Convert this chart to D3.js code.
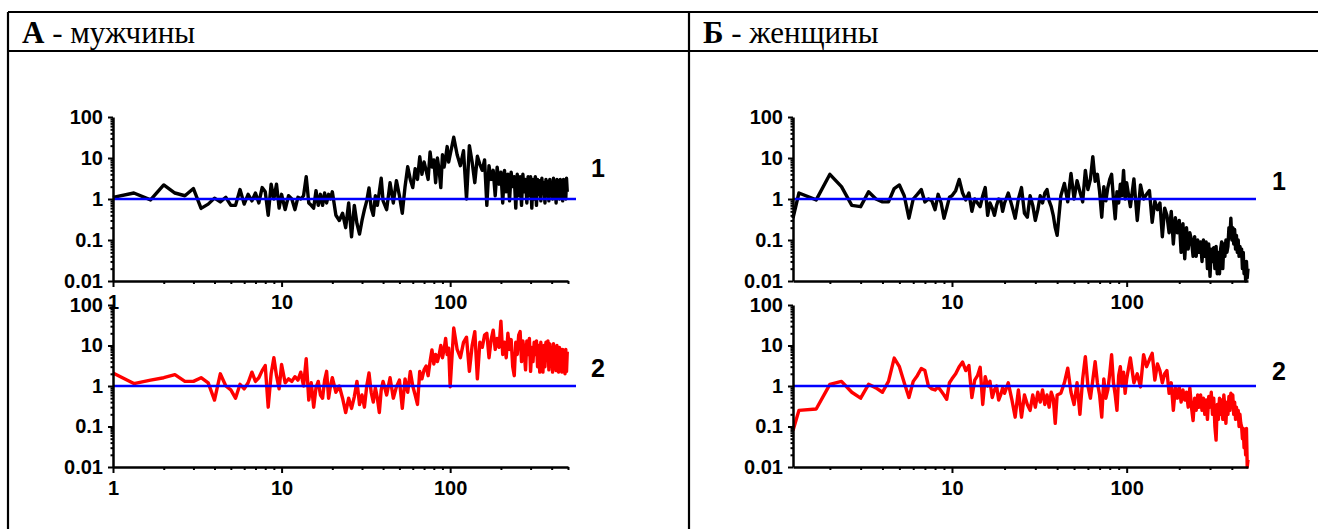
<!DOCTYPE html>
<html>
<head>
<meta charset="utf-8">
<script src="https://cdn.jsdelivr.net/npm/d3@7"></script>
<style>
  body { margin: 0; background: #fff; }
</style>
</head>
<body>
<script>
// Spectra: ratio to reference, log-log, men (A) and women (Б)

const width = 1318;
const height = 529;

// harmonic frequencies (shared grid)
const freqs = [
  1, 1.33, 1.67, 2, 2.33, 2.67, 3, 3.33, 3.67, 4, 4.33, 4.67, 5, 5.33, 5.67, 6, 6.33, 6.67, 7, 7.33, 7.67, 8, 8.33, 8.67, 9, 9.33, 9.67, 10,
  10.5, 11, 11.5, 12, 12.5, 13, 13.5, 14, 14.5, 15, 15.5, 16, 16.5, 17, 17.5, 18, 18.5, 19, 19.5, 20,
  21, 22, 23, 24, 25, 26, 27, 28, 29, 30, 31, 32, 33, 34, 35, 36, 37, 38, 39, 40,
  42, 44, 46, 48, 50, 52, 54, 56, 58, 60, 62, 64, 66, 68, 70, 72, 74, 76, 78, 80, 82, 84, 86, 88, 90, 92, 94, 96, 98, 100,
  105, 110, 115, 120, 125, 130, 135, 140, 145, 150, 155, 160, 165, 170, 175, 180, 185, 190, 195, 200,
  205, 210, 215, 220, 225, 230, 235, 240, 245, 250, 255, 260, 265, 270, 275, 280, 285, 290, 295, 300,
  305, 310, 315, 320, 325, 330, 335, 340, 345, 350, 355, 360, 365, 370, 375, 380, 385, 390, 395, 400,
  405, 410, 415, 420, 425, 430, 435, 440, 445, 450, 455, 460, 465, 470, 475, 480, 485, 490, 495
];
// women's spectra start a little later
const freqsB = [1.23, ...freqs.slice(1)];

// А - мужчины, curve 1
const menSeries1 = [
  1.1, 1.4, 0.95, 2.2, 1.4, 1.2, 1.8, 0.59, 0.75, 1.05, 0.85, 1.1, 0.7, 0.7, 1.7, 0.75, 1.3, 0.9, 1.4, 0.8, 1.9, 1.5, 0.4, 2.3, 1.0, 2.3, 0.6, 1.3,
  0.55, 1.2, 1.0, 0.55, 1.1, 1.0, 1.2, 3.5, 0.8, 0.7, 0.6, 1.6, 0.7, 1.3, 0.7, 1.4, 0.8, 1.3, 1.0, 1.5,
  0.4, 0.3, 0.45, 0.2, 0.8, 0.12, 0.7, 0.25, 0.14, 0.3, 0.55, 0.9, 1.85, 0.6, 0.4, 1.2, 0.7, 1.5, 3.2, 0.9,
  0.55, 2.5, 0.8, 2.8, 1.2, 0.45, 2.0, 6.1, 3.0, 1.9, 5.5, 3.0, 10.7, 4.0, 8, 5, 3.0, 14, 6, 9, 2.5, 10, 5, 1.9, 12, 6, 10, 19, 8, 12,
  32, 12, 6.5, 15, 1.0, 20, 8, 2.5, 11, 7, 5, 9, 0.7, 6.5, 3, 5, 1.2, 6, 2.3, 4.5,
  0.8, 5, 1.5, 4, 0.9, 4.5, 2, 3.5, 0.6, 4, 1.2, 3.5, 0.7, 4, 1.5, 3, 0.8, 3.5, 1.2, 3.5,
  0.6, 3, 1.0, 3.5, 0.7, 3, 1.3, 2.8, 0.9, 3.2, 1.5, 2.5, 0.8, 3, 1.4, 2.6, 0.9, 3, 1.6, 2.5,
  1.0, 3.2, 1.2, 2.5, 0.8, 3, 1.5, 2.6, 1.0, 3, 1.3, 2.4, 0.9, 3, 1.4, 2.5, 1.0, 3.2, 1.5
];

// А - мужчины, curve 2
const menSeries2 = [
  2.1, 1.15, 1.4, 1.6, 1.9, 1.3, 1.3, 1.6, 1.2, 0.45, 2.0, 1.0, 0.8, 0.5, 1.1, 0.85, 1.2, 2.2, 1.3, 1.6, 2.4, 3.2, 0.3, 2.0, 5.0, 1.8, 0.85, 3.4,
  1.2, 1.5, 1.3, 1.7, 1.4, 2.2, 1.0, 4.7, 0.45, 1.2, 0.3, 0.9, 1.3, 0.6, 0.5, 1.4, 2.3, 0.5, 1.0, 1.6,
  0.7, 1.0, 0.5, 0.22, 0.5, 0.28, 0.54, 1.3, 0.35, 0.6, 0.3, 1.0, 2.1, 0.7, 0.4, 0.9, 0.5, 0.22, 0.8, 1.3,
  0.6, 1.6, 0.5, 0.95, 1.4, 0.28, 1.5, 0.7, 2.3, 1.0, 0.6, 0.35, 2.3, 1.5, 2.5, 3.1, 1.8, 4.0, 7.8, 3.5, 6, 4, 5.9, 10, 5, 8, 15, 6, 8.6, 0.96,
  27, 8, 5.0, 12, 16, 2.3, 10, 22, 1.5, 12, 9, 18, 20, 5, 14, 24, 8, 15, 9, 40,
  6, 12, 5, 20, 8, 14, 3, 1.8, 12, 6, 18, 22, 4, 13, 7, 2.5, 13, 6, 15, 2.3,
  9, 4, 12, 6, 13, 3, 10, 2.2, 12, 4, 2.2, 10, 3, 12, 6, 13, 2.5, 11, 5, 8,
  2.2, 11, 4, 9, 2.4, 10, 3, 2.2, 9, 4, 8, 2.2, 8, 3, 7, 2.0, 8, 2.3, 7
];

// Б - женщины, curve 1
const womenSeries1 = [
  0.34, 1.4, 0.95, 4.0, 2.0, 0.7, 0.65, 1.5, 1.0, 0.85, 0.85, 1.8, 2.2, 1.2, 0.34, 1.0, 1.3, 1.7, 0.85, 1.0, 0.9, 0.55, 1.3, 0.8, 0.34, 0.6, 1.1, 1.2,
  1.6, 3.0, 1.4, 0.95, 1.4, 0.5, 1.0, 0.8, 0.65, 1.2, 1.9, 0.4, 0.8, 0.6, 0.4, 0.7, 1.0, 0.95, 0.5, 0.8,
  1.4, 0.7, 0.34, 1.0, 1.9, 0.45, 0.36, 1.2, 0.7, 0.3, 0.55, 1.2, 0.8, 1.4, 1.7, 0.9, 0.65, 0.4, 0.2, 0.13,
  1.2, 2.4, 0.85, 4.2, 1.0, 2.8, 1.5, 0.85, 5, 1.7, 3, 10.8, 2.7, 4, 1.5, 0.36, 2.0, 0.9, 1.9, 3, 4, 1.0, 0.33, 1.5, 0.8, 2.3, 1.2, 5, 1.0, 2.5,
  0.65, 3.1, 0.3, 2.2, 1.0, 1.3, 1.6, 0.27, 0.9, 0.55, 0.8, 0.12, 0.6, 0.4, 0.15, 0.5, 0.08, 0.35, 0.15, 0.3,
  0.05, 0.25, 0.035, 0.2, 0.06, 0.15, 0.1, 0.04, 0.12, 0.04, 0.1, 0.05, 0.09, 0.03, 0.1, 0.04, 0.09, 0.02, 0.08, 0.013,
  0.06, 0.03, 0.065, 0.02, 0.07, 0.015, 0.05, 0.015, 0.06, 0.09, 0.02, 0.08, 0.04, 0.1, 0.05, 0.07, 0.2, 0.12, 0.34, 0.1,
  0.2, 0.08, 0.18, 0.06, 0.13, 0.05, 0.1, 0.04, 0.07, 0.05, 0.06, 0.02, 0.05, 0.015, 0.03, 0.01, 0.03, 0.012, 0.02
];

// Б - женщины, curve 2
const womenSeries2 = [
  0.08, 0.25, 0.27, 1.1, 1.3, 0.7, 0.5, 1.1, 0.9, 0.7, 1.3, 4.9, 3.0, 1.2, 0.52, 1.3, 1.8, 2.7, 2.4, 1.0, 0.85, 0.8, 0.95, 0.75, 0.6, 0.47, 1.2, 1.5,
  2.0, 3.0, 3.9, 2.4, 3.2, 0.52, 1.4, 1.8, 2.9, 0.35, 1.7, 1.0, 1.3, 0.52, 0.8, 1.0, 0.45, 0.6, 0.9, 0.66,
  1.2, 0.47, 0.17, 0.8, 0.17, 0.6, 0.35, 0.25, 0.6, 0.3, 0.7, 0.4, 0.8, 0.35, 0.6, 0.3, 0.7, 0.5, 0.12, 0.6,
  0.66, 1.2, 2.75, 0.7, 0.35, 1.2, 0.2, 1.5, 5.3, 1.0, 0.5, 1.4, 4.0, 1.2, 0.6, 0.17, 1.5, 0.5, 0.8, 2.0, 5.9, 1.2, 0.6, 0.25, 1.8, 3.0, 1.0, 2.2, 0.66, 1.5,
  4.9, 1.2, 2.0, 0.95, 5.9, 3, 4.5, 6.4, 1.4, 3.5, 2.4, 1.2, 2.0, 2.4, 0.66, 1.2, 0.25, 0.9, 0.5, 0.95,
  0.4, 0.8, 0.45, 0.7, 0.3, 0.9, 0.3, 0.14, 0.5, 0.25, 0.6, 0.3, 0.6, 0.25, 0.5, 0.2, 0.45, 0.15, 0.55, 0.3,
  0.7, 0.2, 0.5, 0.1, 0.046, 0.35, 0.15, 0.5, 0.2, 0.45, 0.15, 0.6, 0.3, 0.12, 0.4, 0.2, 0.55, 0.25, 0.66, 0.3,
  0.6, 0.2, 0.4, 0.15, 0.3, 0.17, 0.25, 0.1, 0.2, 0.12, 0.1, 0.05, 0.09, 0.03, 0.06, 0.02, 0.09, 0.01, 0.015
];

// tick labels
const yTickValues = [0.01, 0.1, 1, 10, 100];
const xTickValues = [1, 10, 100];
const curveLabels = ['1', '2'];

// layout
const panels = [
  { bold: 'А', rest: ' - мужчины', headerX: 22, xRange: [113, 568], xDomain: [1, 500], freqs: freqs,
    series: [menSeries1, menSeries2], labelX: 598, labelY: [177, 377] },
  { bold: 'Б', rest: ' - женщины', headerX: 703, xRange: [793, 1248], xDomain: [1.23, 495], freqs: freqsB,
    series: [womenSeries1, womenSeries2], labelX: 1279, labelY: [190, 380] }
];
const rows = [[281, 117], [467, 305]];
const colors = ['#000000', '#ff0000'];

const svg = d3.select('body')
  .append('svg')
  .attr('width', width)
  .attr('height', height);

// table frame
const frame = [
  [8, 12, width, 12],
  [8, 51, width, 51],
  [8, 12, 8, height],
  [689, 12, 689, height]
];
svg.selectAll('line.frame')
  .data(frame)
  .enter()
  .append('line')
  .attr('class', 'frame')
  .attr('x1', d => d[0]).attr('y1', d => d[1])
  .attr('x2', d => d[2]).attr('y2', d => d[3])
  .attr('stroke', '#000')
  .attr('stroke-width', 2.2);

const tickFont = 'Liberation Sans, Arial, sans-serif';

panels.forEach(p => {
  // header
  const head = svg.append('text')
    .attr('x', p.headerX)
    .attr('y', 43)
    .attr('font-family', 'Liberation Serif, Times New Roman, serif')
    .attr('font-size', 31)
    .attr('fill', '#000');
  head.append('tspan').attr('font-weight', 'bold').text(p.bold);
  head.append('tspan').text(p.rest);

  const x = d3.scaleLog().domain(p.xDomain).range(p.xRange);

  rows.forEach((r, i) => {
    const y = d3.scaleLog().domain([0.01, 100]).range(r).clamp(true);
    const g = svg.append('g');

    const line = d3.line()
      .x((d, j) => x(p.freqs[j]))
      .y(d => y(d));

    g.append('path')
      .datum(p.series[i])
      .attr('d', line)
      .attr('fill', 'none')
      .attr('stroke', colors[i])
      .attr('stroke-width', 3.4)
      .attr('stroke-linejoin', 'round');

    // reference level
    g.append('line')
      .attr('x1', p.xRange[0])
      .attr('x2', p.xRange[1] + 8)
      .attr('y1', y(1))
      .attr('y2', y(1))
      .attr('stroke', '#0000ff')
      .attr('stroke-width', 2.5);

    // y axis
    const yMinor = y.ticks().filter(t => !yTickValues.includes(t));
    g.append('g')
      .attr('transform', `translate(${p.xRange[0]},0)`)
      .call(d3.axisLeft(y).tickValues(yMinor).tickSize(2.5).tickFormat(''))
      .call(a => a.select('.domain').remove());
    const ya = g.append('g')
      .attr('transform', `translate(${p.xRange[0]},0)`)
      .call(d3.axisLeft(y).tickValues(yTickValues).tickFormat(d => String(d))
        .tickSize(5).tickSizeOuter(0).tickPadding(5));

    // x axis
    const xMinor = x.ticks().filter(t => !xTickValues.includes(t));
    g.append('g')
      .attr('transform', `translate(0,${r[0]})`)
      .call(d3.axisBottom(x).tickValues(xMinor).tickSize(3).tickFormat(''))
      .call(a => a.select('.domain').remove());
    const xa = g.append('g')
      .attr('transform', `translate(0,${r[0]})`)
      .call(d3.axisBottom(x)
        .tickValues(xTickValues.filter(t => t >= p.xDomain[0]))
        .tickFormat(d => String(d))
        .tickSize(6).tickSizeOuter(0).tickPadding(8));

    g.selectAll('.domain').attr('stroke-width', 2.5);
    g.selectAll('.tick line').attr('stroke-width', 2);
    [ya, xa].forEach(a => a.selectAll('text')
      .attr('font-family', tickFont)
      .attr('font-weight', 'bold')
      .attr('font-size', 20)
      .attr('fill', '#000'));

    // curve number
    g.append('text')
      .text(curveLabels[i])
      .attr('x', p.labelX)
      .attr('y', p.labelY[i])
      .attr('text-anchor', 'middle')
      .attr('font-family', tickFont)
      .attr('font-weight', 'bold')
      .attr('font-size', 25)
      .attr('fill', '#000');
  });
});
</script>
</body>
</html>
